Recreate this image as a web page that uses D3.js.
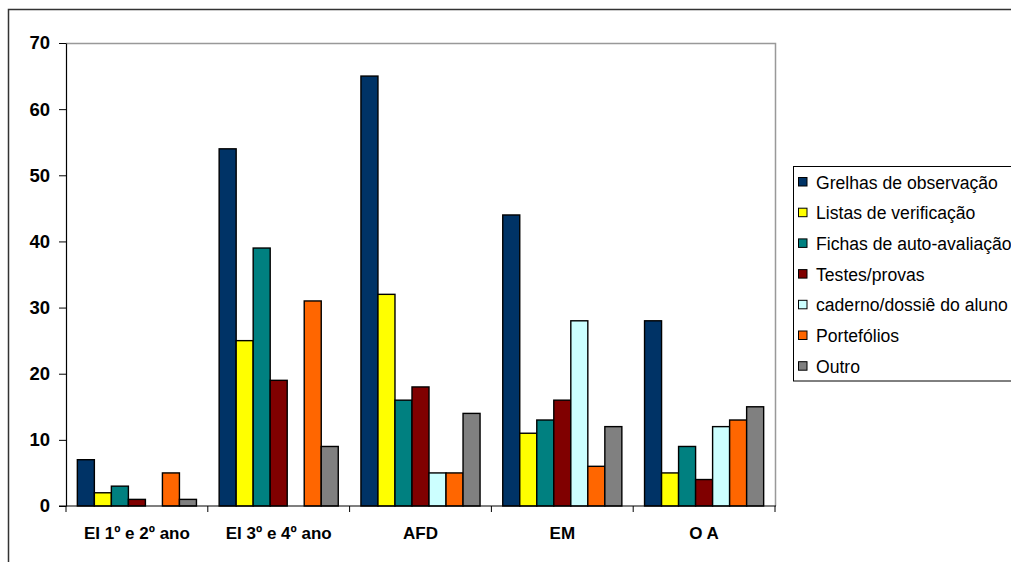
<!DOCTYPE html>
<html>
<head>
<meta charset="utf-8">
<script src="https://cdn.jsdelivr.net/npm/d3@7"></script>
<style>
  html, body { margin: 0; padding: 0; background: #fff; }
  svg { display: block; }
</style>
</head>
<body>
<svg id="chart" width="1011" height="562"></svg>
<script>
// Categories (school levels) and the assessment instruments used in each
const categories = ["EI 1º e 2º ano", "EI 3º e 4º ano", "AFD", "EM", "O A"];
const seriesNames = [
  "Grelhas de observação",
  "Listas de verificação",
  "Fichas de auto-avaliação",
  "Testes/provas",
  "caderno/dossiê do aluno",
  "Portefólios",
  "Outro"
];
const seriesColors = ["#003366", "#FFFF00", "#008080", "#800000", "#CCFFFF", "#FF6600", "#808080"];

// Counts per instrument, one array per series, in category order
const grelhas   = [7, 54, 65, 44, 28];
const listas    = [2, 25, 32, 11, 5];
const fichas    = [3, 39, 16, 13, 9];
const testes    = [1, 19, 18, 16, 4];
const caderno   = [0, 0, 5, 28, 12];
const portfolio = [5, 31, 5, 6, 13];
const outro     = [1, 9, 14, 12, 15];
const seriesValues = [grelhas, listas, fichas, testes, caderno, portfolio, outro];

const yTicks = [0, 10, 20, 30, 40, 50, 60, 70];

const svg = d3.select("#chart");
const font = "'Liberation Sans', Arial, sans-serif";

// Outer chart frame
svg.append("path")
  .attr("d", "M8.5,562 L8.5,9.5 L1011,9.5")
  .attr("fill", "none").attr("stroke", "#333").attr("stroke-width", 1.5);

const plot = { left: 66, right: 775, top: 43, bottom: 506 };

const x0 = d3.scaleBand().domain(categories).range([plot.left, plot.right]).padding(0);
const inset = x0.bandwidth() * 0.08;
const x1 = d3.scaleBand().domain(d3.range(seriesNames.length))
  .range([inset, x0.bandwidth() - inset]).padding(0);
const y = d3.scaleLinear().domain([0, 70]).range([plot.bottom, plot.top]);

// Plot area border (grey)
svg.append("path")
  .attr("d", `M${plot.left},${plot.top + 0.5} L${plot.right + 0.5},${plot.top + 0.5} L${plot.right + 0.5},${plot.bottom}`)
  .attr("fill", "none").attr("stroke", "#999").attr("stroke-width", 1.5);

// Bars
const rows = [];
categories.forEach((c, ci) => {
  seriesValues.forEach((vals, si) => {
    if (vals[ci] > 0) rows.push({ c, si, v: vals[ci] });
  });
});
svg.append("g").selectAll("rect").data(rows).join("rect")
  .attr("x", d => x0(d.c) + x1(d.si))
  .attr("y", d => y(d.v))
  .attr("width", x1.bandwidth())
  .attr("height", d => y(0) - y(d.v))
  .attr("fill", d => seriesColors[d.si])
  .attr("stroke", "#000").attr("stroke-width", 1.4);

// Y axis
const yAxis = svg.append("g")
  .attr("transform", `translate(${plot.left},0)`)
  .call(d3.axisLeft(y).tickValues(yTicks).tickSize(7).tickSizeOuter(0).tickPadding(9));
yAxis.select(".domain").attr("stroke", "#000").attr("stroke-width", 1.2);
yAxis.selectAll(".tick line").attr("stroke", "#000");
yAxis.selectAll("text")
  .attr("font-family", font).attr("font-size", 18.5).attr("font-weight", "bold").attr("fill", "#000");

// X axis: tick marks at category boundaries
const xAxisG = svg.append("g").attr("transform", `translate(0,${plot.bottom})`);
xAxisG.append("line")
  .attr("x1", plot.left - 7).attr("x2", plot.right + 1)
  .attr("stroke", "#000").attr("stroke-width", 1.2);
const bounds = categories.map(c => x0(c)).concat([plot.right]);
xAxisG.selectAll("line.bt").data(bounds).join("line")
  .attr("class", "bt")
  .attr("x1", d => d).attr("x2", d => d)
  .attr("y1", 0).attr("y2", 6)
  .attr("stroke", "#000");
xAxisG.selectAll("text").data(categories).join("text")
  .attr("x", d => x0(d) + x0.bandwidth() / 2)
  .attr("y", 32.5)
  .attr("text-anchor", "middle")
  .attr("font-family", font).attr("font-size", 17).attr("font-weight", "bold")
  .text(d => d);

// Legend (its right side runs past the frame, as in the original layout)
const legend = svg.append("g");
legend.append("rect")
  .attr("x", 793.5).attr("y", 166.5).attr("width", 240).attr("height", 214.5)
  .attr("fill", "#fff").attr("stroke", "#000").attr("stroke-width", 1);
const item = legend.selectAll("g.item").data(seriesNames).join("g")
  .attr("class", "item")
  .attr("transform", (d, i) => `translate(0,${181.5 + i * 30.7})`);
item.append("rect")
  .attr("x", 798.5).attr("y", -4).attr("width", 8.5).attr("height", 8.5)
  .attr("fill", (d, i) => seriesColors[i]).attr("stroke", "#000").attr("stroke-width", 1);
item.append("text")
  .attr("x", 816).attr("y", 7)
  .attr("font-family", font).attr("font-size", 17.6).attr("fill", "#000")
  .text(d => d);
</script>
</body>
</html>
